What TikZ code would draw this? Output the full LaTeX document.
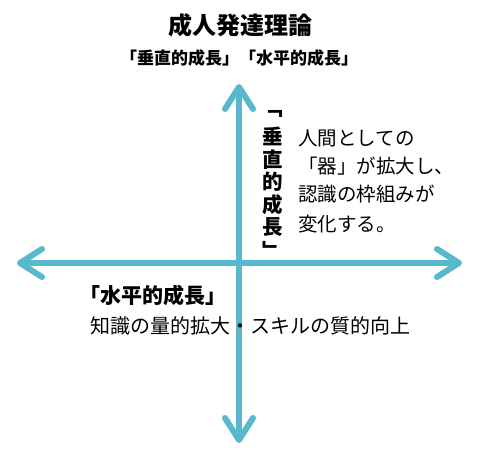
\documentclass[tikz,border=0pt]{standalone}
\usepackage{fontspec}
\setmainfont{Noto Sans CJK JP}
\usetikzlibrary{arrows.meta}
\definecolor{axisblue}{RGB}{88,184,206}
\tikzset{
  barb/.tip = {Straight Barb[length=22pt,width=28pt,round]},
  axisline/.style = {line width=6pt, axisblue, barb-barb},
  boldlbl/.style = {inner sep=0, font=\bfseries\fontsize{#1}{#1}\selectfont},
  plainlbl/.style = {inner sep=0, font=\fontsize{#1}{#1}\selectfont}
}

\begin{document}
\begin{tikzpicture}[x=1pt, y=-1pt]
    \useasboundingbox (0,0) rectangle (482,464);

    \coordinate (top) at (239,84);
    \coordinate (bottom) at (239,443);
    \coordinate (left) at (17,263);
    \coordinate (right) at (462,263);
    \draw[axisline] (left) -- (right);
    \draw[axisline] (bottom) -- (top);

    \node[boldlbl=24] (title) at (240,25) {成人発達理論};
    \node[boldlbl=17] (subtitle) at (239,58) {「垂直的成長」「水平的成長」};

    % vertical label, one glyph per node
    \foreach \ch [count=\i] in {﹁,垂,直,的,成,長,﹂}
        \node[boldlbl=20.5] (vert\i) at (273,{114+22.6*(\i-1)}) {\ch};

    \node[plainlbl=19.5, anchor=west] (desc1) at (298,138) {人間としての};
    \node[plainlbl=19.5, anchor=west] (desc2) at (298,166) {「器」が拡大し、};
    \node[plainlbl=19.5, anchor=west] (desc3) at (298,194) {認識の枠組みが};
    \node[plainlbl=19.5, anchor=west] (desc4) at (298,224) {変化する。};

    \node[boldlbl=21] (horiz) at (153,295) {「水平的成長」};
    \node[plainlbl=20] (horizdesc) at (250,326) {知識の量的拡大・スキルの質的向上};
\end{tikzpicture}
\end{document}
